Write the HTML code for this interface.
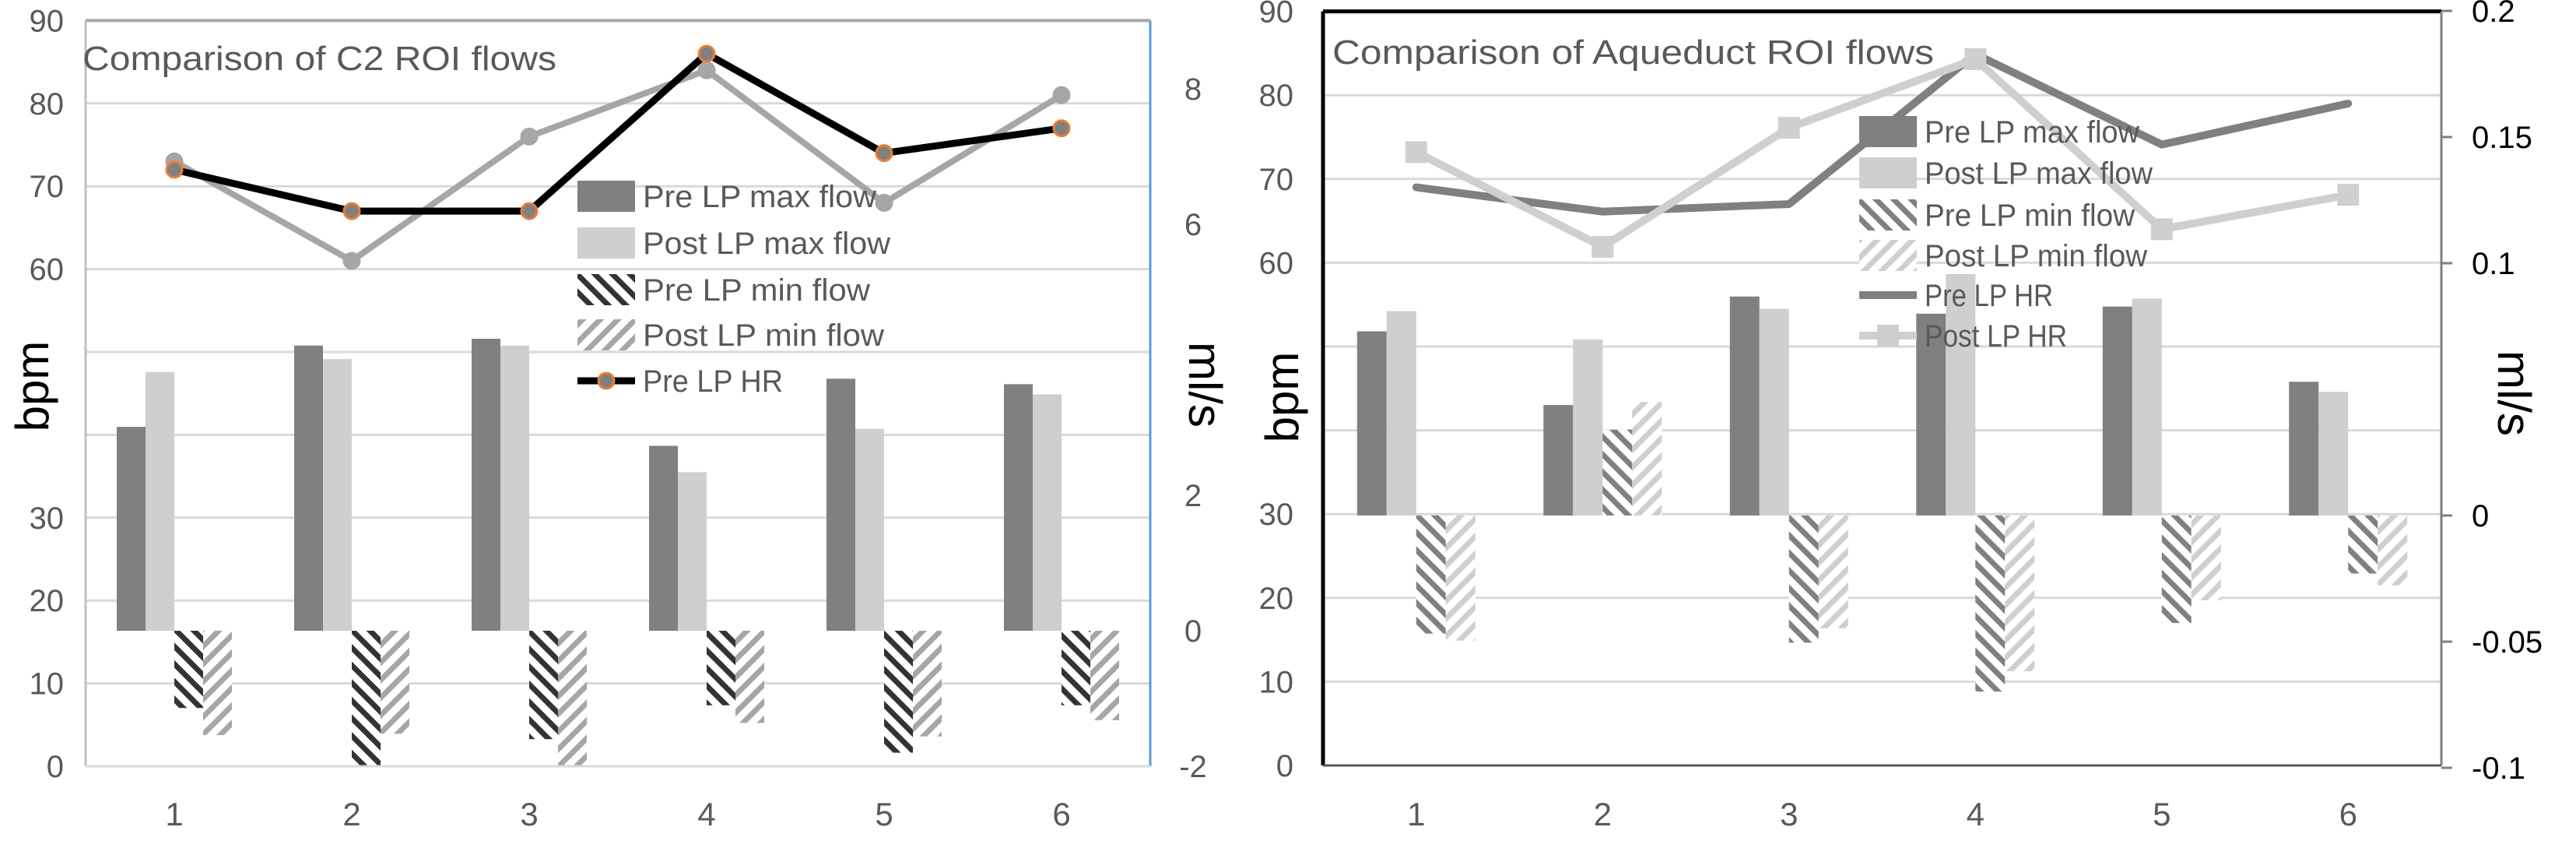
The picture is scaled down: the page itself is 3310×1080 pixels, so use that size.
<!DOCTYPE html>
<html><head><meta charset="utf-8"><style>
html,body{margin:0;padding:0;background:#fff;}
svg{display:block;font-family:"Liberation Sans",sans-serif;}
</style></head><body>
<svg id="c" width="3310" height="1080" viewBox="0 0 3310 1080" xmlns="http://www.w3.org/2000/svg">
<defs>
<pattern id="hPreL" patternUnits="userSpaceOnUse" width="16" height="16" patternTransform="rotate(-45)"><rect width="16" height="16" fill="#fff"/><rect width="7" height="16" fill="#333"/></pattern>
<pattern id="hPostL" patternUnits="userSpaceOnUse" width="16" height="16" patternTransform="rotate(45)"><rect width="16" height="16" fill="#fff"/><rect width="7" height="16" fill="#a6a6a6"/></pattern>
<pattern id="hPreR" patternUnits="userSpaceOnUse" width="16" height="16" patternTransform="rotate(-45)"><rect width="16" height="16" fill="#fff"/><rect width="7" height="16" fill="#808080"/></pattern>
<pattern id="hPostR" patternUnits="userSpaceOnUse" width="16" height="16" patternTransform="rotate(45)"><rect width="16" height="16" fill="#fff"/><rect width="7" height="16" fill="#d0cece"/></pattern>
</defs>
<g id="left"></g>
<g id="right"></g>
</svg>
<script>
const categories = ["1","2","3","4","5","6"];
// C2 chart
const c2PreMax = [3.01,4.21,4.31,2.73,3.72,3.64];
const c2PostMax = [3.82,4.01,4.21,2.34,2.98,3.49];
const c2PreMin = [-1.14,-2.0,-1.6,-1.1,-1.8,-1.1];
const c2PostMin = [-1.54,-1.52,-2.0,-1.36,-1.56,-1.32];
const c2PreHR = [72,67,67,86,74,77];
const c2PostHR = [73,61,76,84,68,81];
const c2LeftTicks = ["90","80","70","60","30","20","10","0"];
const c2LeftTickVals = [90,80,70,60,30,20,10,0];
const c2RightTicks = ["8","6","2","0","-2"];
const c2RightTickVals = [8,6,2,0,-2];
// Aqueduct chart
const aqPreMax = [0.073,0.0438,0.0868,0.080,0.0828,0.053];
const aqPostMax = [0.081,0.0698,0.0819,0.0957,0.086,0.049];
const aqPreMin = [-0.0468,0.034,-0.0504,-0.0698,-0.0426,-0.023];
const aqPostMin = [-0.0496,0.045,-0.0447,-0.0617,-0.0336,-0.0277];
const aqPreHR = [69,66.1,67,84.9,74.1,79];
const aqPostHR = [73.2,61.9,76.1,84.3,64,68.1];
const aqLeftTicks = ["90","80","70","60","30","20","10","0"];
const aqLeftTickVals = [90,80,70,60,30,20,10,0];
const aqRightTicks = ["0.2","0.15","0.1","0","-0.05","-0.1"];
const aqRightTickVals = [0.2,0.15,0.1,0,-0.05,-0.1];

const NS="http://www.w3.org/2000/svg";
function mk(parent,tag,attrs,text){const e=document.createElementNS(NS,tag);for(const k in attrs)e.setAttribute(k,attrs[k]);if(text!==undefined)e.textContent=text;parent.appendChild(e);return e;}

function drawChart(g,cfg){
  const xC=i=>cfg.x0+(i+0.5)*cfg.cw;
  const yB=v=>cfg.b0-v*cfg.bk;
  const yF=v=>cfg.f0-v*cfg.fk;
  const x1=cfg.x0+cfg.cw*categories.length;
  for(let v=10;v<=90;v+=10){
    const l=mk(g,'line',{x1:cfg.x0,x2:x1,y1:yB(v),y2:yB(v),stroke:'#d9d9d9','stroke-width':3});
    
    
  }
  const ft=mk(g,'line',{x1:cfg.x0,x2:x1,y1:yB(90),y2:yB(90),stroke:cfg.topCol,'stroke-width':cfg.topW});
  
  const fl=mk(g,'line',{x1:cfg.x0,x2:cfg.x0,y1:yB(90),y2:yB(0),stroke:cfg.leftCol,'stroke-width':cfg.leftW});
  
  const fr=mk(g,'line',{x1:x1,x2:x1,y1:yB(90),y2:yB(0),stroke:cfg.rightCol,'stroke-width':3});
  
  if(cfg.ticks){cfg.rTickVals.forEach(v=>{const t=mk(g,'line',{x1:x1,x2:x1+14,y1:yF(v),y2:yF(v),stroke:'#808080','stroke-width':3});});}
  const w=cfg.bw;
  const sets=[[cfg.preMax,cfg.cPreMax,-2,'bar-pre-max'],[cfg.postMax,cfg.cPostMax,-1,'bar-post-max'],[cfg.preMin,cfg.cPreMin,0,'bar-pre-min'],[cfg.postMin,cfg.cPostMin,1,'bar-post-min']];
  sets.forEach(s=>{s[0].forEach((v,i)=>{
    const y=Math.min(yF(v),yF(0)),h=Math.abs(yF(v)-yF(0));
    const r=mk(g,'rect',{x:xC(i)+s[2]*w,y:y,width:w,height:h,fill:s[1]});
    
    
  });});
  const ba=mk(g,'line',{x1:cfg.x0,x2:x1,y1:yB(0),y2:yB(0),stroke:cfg.botCol,'stroke-width':3});
  
  cfg.lines.forEach(L=>{
    const pts=L.data.map((v,i)=>xC(i)+','+yB(v)).join(' ');
    const pl=mk(g,'polyline',{points:pts,fill:'none',stroke:L.col,'stroke-width':L.w,'stroke-linejoin':'round','stroke-linecap':'round'});
    
    
    L.data.forEach((v,i)=>{
      let m=null;
      if(L.marker==='circle')m=mk(g,'circle',{cx:xC(i),cy:yB(v),r:10,fill:L.mFill,stroke:L.mStroke,'stroke-width':3});
      if(L.marker==='square')m=mk(g,'rect',{x:xC(i)-14,y:yB(v)-14,width:28,height:28,fill:L.mFill});
      if(m){}
    });
  });
  cfg.lTickVals.forEach((v,i)=>{const t=mk(g,'text',{x:cfg.lLabX,y:yB(v)+14,'text-anchor':'end','font-size':40,fill:'#595959'},cfg.lTicks[i]);});
  cfg.rTickVals.forEach((v,i)=>{const t=mk(g,'text',{x:cfg.rLabX,y:yF(v)+14,'text-anchor':cfg.rAnchor,'font-size':40,fill:cfg.rLabCol},cfg.rTicks[i]);});
  categories.forEach((c,i)=>{const t=mk(g,'text',{x:xC(i),y:1060,'text-anchor':'middle','font-size':42,fill:'#595959'},c);});
  const bt=mk(g,'text',{x:0,y:0,'text-anchor':'middle','font-size':60,fill:'#000',transform:`translate(${cfg.bpmX},${cfg.bpmY}) rotate(-90)`},'bpm');
  
  const mt=mk(g,'text',{x:0,y:0,'text-anchor':'middle','font-size':60,fill:'#000',transform:`translate(${cfg.mlX},${cfg.mlY}) rotate(90)`},'ml/s');
  
  const tt=mk(g,'text',{x:cfg.titleX,y:cfg.titleY,'font-size':44,fill:'#595959',textLength:cfg.titleLen,lengthAdjust:'spacingAndGlyphs'},cfg.title);
  
  const lg=mk(g,'g',{});
  
  cfg.legend.forEach((e,i)=>{
    const y=cfg.legY[i];
    if(e.type==='rect'){const r=mk(lg,'rect',{x:cfg.legX,y:y-20,width:74,height:40,fill:e.fill});}
    else{const l=mk(lg,'line',{x1:cfg.legX,x2:cfg.legX+74,y1:y,y2:y,stroke:e.col,'stroke-width':e.w});
      if(e.marker==='circle'){const c=mk(lg,'circle',{cx:cfg.legX+37,cy:y,r:10,fill:e.mFill,stroke:e.mStroke,'stroke-width':3});}
      if(e.marker==='square'){const c=mk(lg,'rect',{x:cfg.legX+23,y:y-14,width:28,height:28,fill:e.mFill});}}
    const t=mk(lg,'text',{x:cfg.legX+84,y:y+14,'font-size':40,fill:'#595959',textLength:e.len,lengthAdjust:'spacingAndGlyphs'},e.label);
    
  });
}

drawChart(document.getElementById('left'),{
  x0:110,cw:228,bw:37,b0:984,bk:10.64,f0:810,fk:87,
  topCol:'#a6a6a6',topW:4,leftCol:'#bfbfbf',leftW:3,rightCol:'#5b9bd5',botCol:'#d9d9d9',ticks:false,
  preMax:c2PreMax,postMax:c2PostMax,preMin:c2PreMin,postMin:c2PostMin,
  cPreMax:'#808080',cPostMax:'#d0cece',cPreMin:'url(#hPreL)',cPostMin:'url(#hPostL)',
  lines:[{data:c2PostHR,col:'#a6a6a6',w:8,marker:'circle',mFill:'#a6a6a6',mStroke:'#a6a6a6',name:'line-post-lp-hr'},
         {data:c2PreHR,col:'#000',w:9,marker:'circle',mFill:'#808080',mStroke:'#ed7d31',name:'line-pre-lp-hr'}],
  lTicks:c2LeftTicks,lTickVals:c2LeftTickVals,rTicks:c2RightTicks,rTickVals:c2RightTickVals,
  lLabX:82,rLabX:1533,rAnchor:'middle',rLabCol:'#595959',
  bpmX:62,bpmY:496,mlX:1528,mlY:494,
  title:'Comparison of C2 ROI flows',titleX:106,titleY:90,titleLen:609,
  legX:742,legY:[252,312,372,430,489],
  legend:[{type:'rect',fill:'#808080',label:'Pre LP max flow',len:300},{type:'rect',fill:'#d0cece',label:'Post LP max flow',len:318},
          {type:'rect',fill:'url(#hPreL)',label:'Pre LP min flow',len:292},{type:'rect',fill:'url(#hPostL)',label:'Post LP min flow',len:310},
          {type:'line',col:'#000',w:9,marker:'circle',mFill:'#808080',mStroke:'#ed7d31',label:'Pre LP HR',len:180}]
});
drawChart(document.getElementById('right'),{
  x0:1700,cw:239.5,bw:38,b0:983,bk:10.76,f0:662,fk:3240,
  topCol:'#000',topW:5,leftCol:'#000',leftW:5,rightCol:'#808080',botCol:'#595959',ticks:true,
  preMax:aqPreMax,postMax:aqPostMax,preMin:aqPreMin,postMin:aqPostMin,
  cPreMax:'#808080',cPostMax:'#d0cece',cPreMin:'url(#hPreR)',cPostMin:'url(#hPostR)',
  lines:[{data:aqPreHR,col:'#808080',w:10,marker:'none',name:'line-pre-lp-hr'},
         {data:aqPostHR,col:'#d0cece',w:10,marker:'square',mFill:'#d0cece',name:'line-post-lp-hr'}],
  lTicks:aqLeftTicks,lTickVals:aqLeftTickVals,rTicks:aqRightTicks,rTickVals:aqRightTickVals,
  lLabX:1662,rLabX:3176,rAnchor:'start',rLabCol:'#000',
  bpmX:1668,bpmY:510,mlX:3210,mlY:505,
  title:'Comparison of Aqueduct ROI flows',titleX:1712,titleY:82,titleLen:773,
  legX:2389,legY:[169,222,276,328,379,431],
  legend:[{type:'rect',fill:'#808080',label:'Pre LP max flow',len:276},{type:'rect',fill:'#d0cece',label:'Post LP max flow',len:293},
          {type:'rect',fill:'url(#hPreR)',label:'Pre LP min flow',len:270},{type:'rect',fill:'url(#hPostR)',label:'Post LP min flow',len:286},
          {type:'line',col:'#808080',w:10,marker:'none',label:'Pre LP HR',len:165},
          {type:'line',col:'#d0cece',w:10,marker:'square',mFill:'#d0cece',label:'Post LP HR',len:183}]
});
</script>
</body></html>
